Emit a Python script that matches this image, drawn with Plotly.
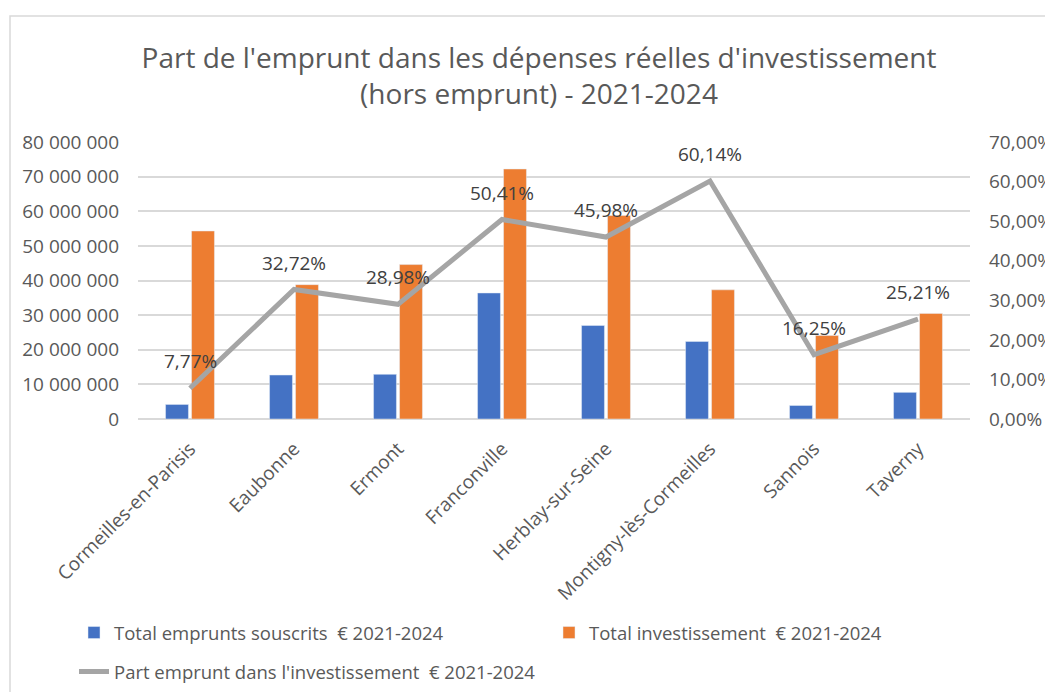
import plotly.graph_objects as go

communes = [
    "Cormeilles-en-Parisis", "Eaubonne", "Ermont", "Franconville",
    "Herblay-sur-Seine", "Montigny-lès-Cormeilles", "Sannois", "Taverny",
]
emprunts = [4_200_000, 12_700_000, 12_900_000, 36_400_000, 27_000_000, 22_400_000, 3_900_000, 7_700_000]
investissement = [54_300_000, 38_800_000, 44_600_000, 72_200_000, 58_800_000, 37_300_000, 24_100_000, 30_500_000]
part_emprunt = [0.0777, 0.3272, 0.2898, 0.5041, 0.4598, 0.6014, 0.1625, 0.2521]

left_ticks = [0, 10_000_000, 20_000_000, 30_000_000, 40_000_000, 50_000_000, 60_000_000, 70_000_000, 80_000_000]
right_ticks = [0, 0.1, 0.2, 0.3, 0.4, 0.5, 0.6, 0.7]

FONT = "Open Sans, Noto Sans, sans-serif"
TXT = "#595959"

# the page body adds an 8px margin, so the figure is drawn 8px in from the window edge
OFF = 8
W, H = 1053 - OFF, 692 - OFF
# plot area in figure pixels
PL, PT, PW, PH = 138 - OFF, 142 - OFF, 832, 277


def px_x(px):
    """window pixel x -> paper x"""
    return (px - OFF - PL) / PW


def px_y(py):
    """window pixel y -> paper y"""
    return (PT + PH - (py - OFF)) / PH


fig = go.Figure()
fig.add_trace(go.Bar(
    x=communes, y=emprunts, name="Total emprunts souscrits  € 2021-2024",
    marker=dict(color="#4472c4"), legend="legend",
))
fig.add_trace(go.Bar(
    x=communes, y=investissement, name="Total investissement  € 2021-2024",
    marker=dict(color="#ed7d31"), legend="legend2",
))
fig.add_trace(go.Scatter(
    x=communes, y=part_emprunt, yaxis="y2", mode="lines",
    name="Part emprunt dans l'investissement  € 2021-2024",
    line=dict(color="#a5a5a5", width=5), legend="legend3",
))

# data labels above the line points
for c, p in zip(communes, part_emprunt):
    fig.add_annotation(
        x=c, y=p, yref="y2", text=f"{p * 100:.2f}%".replace(".", ","),
        showarrow=False, yshift=27, font=dict(size=19, color="#404040", family=FONT),
    )

# chart frame
fig.add_shape(
    type="rect", xref="paper", yref="paper",
    x0=px_x(10), x1=px_x(1080), y0=px_y(720), y1=px_y(16),
    line=dict(color="#d9d9d9", width=1.5), fillcolor="rgba(0,0,0,0)", layer="below",
)

legend_style = dict(
    orientation="h", xanchor="left", yanchor="middle",
    font=dict(size=18.5, color=TXT, family=FONT), bgcolor="rgba(0,0,0,0)",
)

fig.update_layout(
    width=W, height=H,
    margin=dict(l=PL, r=W - PL - PW, t=PT, b=H - PT - PH, autoexpand=False),
    paper_bgcolor="white", plot_bgcolor="white",
    separators=", ",
    font=dict(family=FONT, color=TXT),
    showlegend=True,
    title=dict(
        text="Part de l'emprunt dans les dépenses réelles d'investissement<br>(hors emprunt) - 2021-2024",
        x=(539 - OFF) / W, xanchor="center", xref="container",
        y=1 - 60 / H, yanchor="top", yref="container",
        font=dict(size=28, color=TXT, family=FONT),
    ),
    barmode="group", bargap=0.5, bargroupgap=0.12,
    xaxis=dict(
        tickangle=-45, tickfont=dict(size=19, color=TXT), showgrid=False,
        showline=False, ticks="", ticklabelstandoff=14,
    ),
    yaxis=dict(
        range=[0, 80_000_000], tickvals=left_ticks, tickformat=",d",
        tickfont=dict(size=19, color=TXT), gridcolor="#d9d9d9", gridwidth=1.5,
        zeroline=True, zerolinecolor="#d9d9d9", zerolinewidth=1.5,
        ticklabelstandoff=18,
    ),
    yaxis2=dict(
        range=[0, 0.7], tickvals=right_ticks, tickformat=".2%", overlaying="y", side="right",
        showgrid=False, zeroline=False, tickfont=dict(size=19, color=TXT),
        ticklabelstandoff=18,
    ),
    legend=dict(x=px_x(74), y=px_y(633), **legend_style),
    legend2=dict(x=px_x(549), y=px_y(633), **legend_style),
    legend3=dict(x=px_x(74), y=px_y(672), **legend_style),
)

fig.write_html("out.html")
